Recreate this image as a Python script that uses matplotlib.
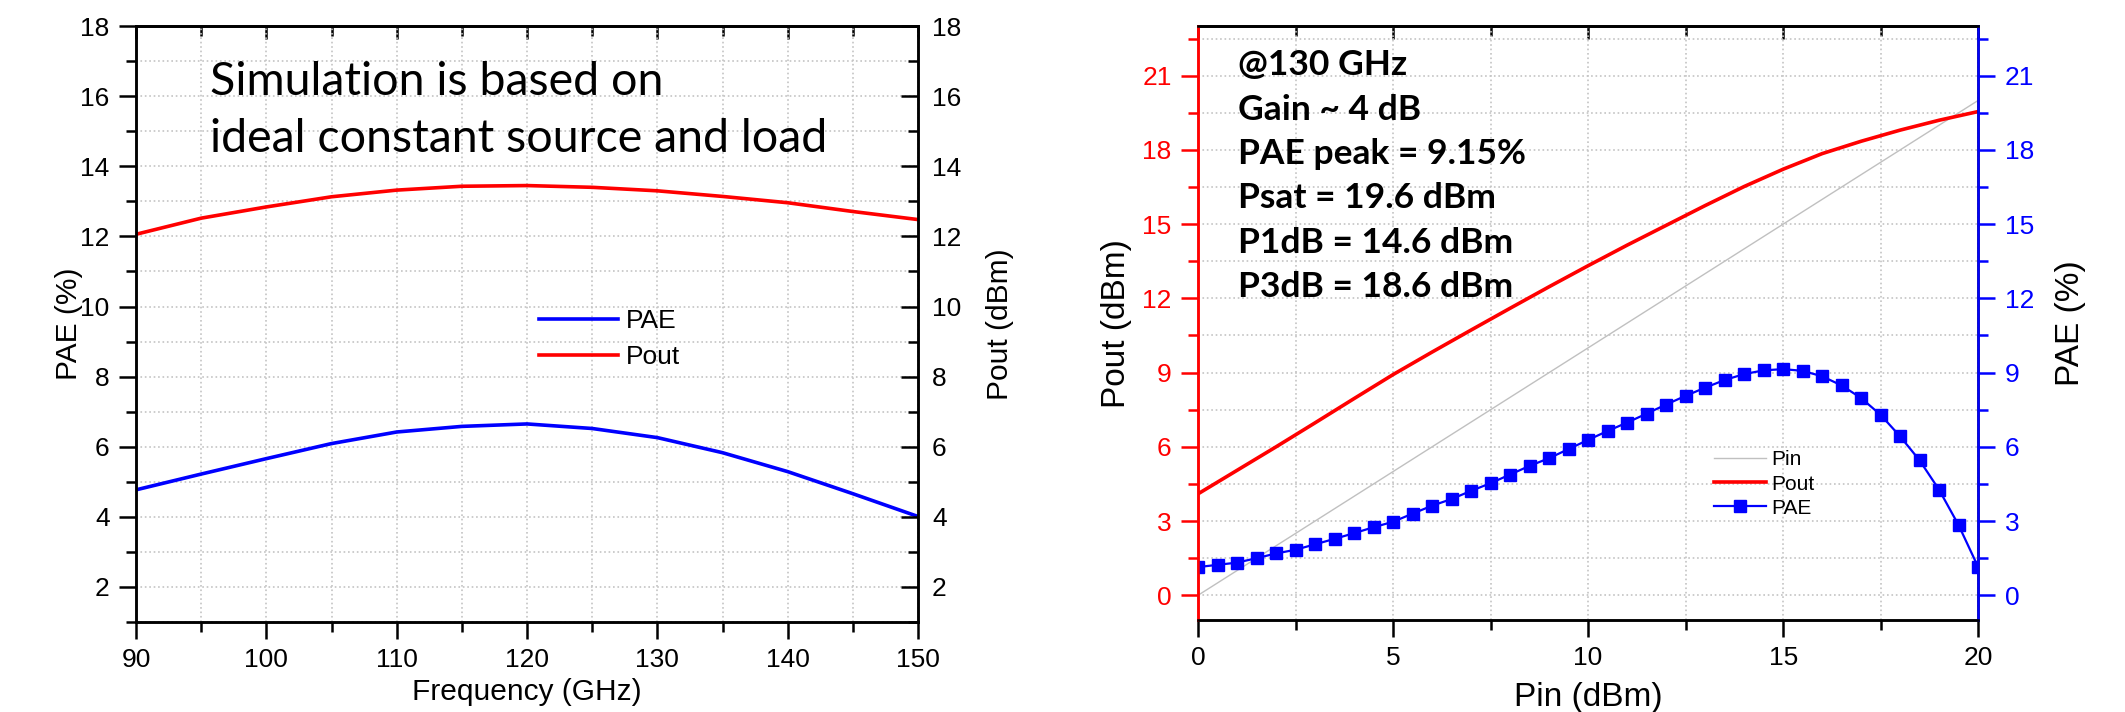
import numpy as np
import matplotlib
matplotlib.use("Agg")
import matplotlib.pyplot as plt
from matplotlib.ticker import MultipleLocator

plt.rcParams["font.family"] = ["Liberation Sans", "DejaVu Sans"]

# --- left plot: PAE and Pout versus frequency ---
freq = [90, 95, 100, 105, 110, 115, 120, 125, 130, 135, 140, 145, 150]
pae_freq = [4.77, 5.22, 5.66, 6.09, 6.42, 6.58, 6.65, 6.52, 6.26, 5.83, 5.29, 4.66, 4.01]
pout_freq = [12.06, 12.52, 12.84, 13.13, 13.32, 13.43, 13.45, 13.40, 13.30, 13.14, 12.96, 12.71, 12.48]

# --- right plot: power sweep at 130 GHz ---
pin = [0, 1, 2, 3, 4, 5, 6, 7, 8, 9, 10, 11, 12, 13, 14, 15, 16, 17, 18, 19, 20]
pout = [4.10, 5.05, 6.00, 6.97, 7.95, 8.92, 9.83, 10.72, 11.60, 12.47, 13.32,
        14.15, 14.95, 15.75, 16.52, 17.22, 17.85, 18.35, 18.80, 19.20, 19.55]
pin_pae = [0, 0.5, 1, 1.5, 2, 2.5, 3, 3.5, 4, 4.5, 5, 5.5, 6, 6.5, 7, 7.5, 8, 8.5, 9, 9.5,
           10, 10.5, 11, 11.5, 12, 12.5, 13, 13.5, 14, 14.5, 15, 15.5, 16, 16.5, 17, 17.5,
           18, 18.5, 19, 19.5, 20]
pae = [1.14, 1.23, 1.32, 1.50, 1.69, 1.84, 2.06, 2.28, 2.51, 2.75, 2.97, 3.30, 3.62, 3.89,
       4.22, 4.53, 4.88, 5.23, 5.54, 5.91, 6.28, 6.64, 6.98, 7.34, 7.71, 8.06, 8.39, 8.70,
       8.94, 9.09, 9.14, 9.07, 8.85, 8.48, 7.97, 7.29, 6.42, 5.45, 4.26, 2.83, 1.14]

notes = ["@130 GHz", "Gain ~ 4 dB", "PAE peak = 9.15%", "Psat = 19.6 dBm",
         "P1dB = 14.6 dBm", "P3dB = 18.6 dBm"]

ROUGE = "#ff0000"
BLEU = "#0000ff"
GRILLE = dict(color="#c4c4c4", linestyle=":", linewidth=1.2)
TICK = 19
LABEL_G = 21.5
LABEL_D = 24
SPINE = 1.8
LW = 2.6


def style_axe(ax, xmaj, xmin, ymaj, ymin):
    ax.xaxis.set_major_locator(MultipleLocator(xmaj))
    ax.xaxis.set_minor_locator(MultipleLocator(xmin))
    ax.yaxis.set_major_locator(MultipleLocator(ymaj))
    ax.yaxis.set_minor_locator(MultipleLocator(ymin))
    ax.grid(True, which="both", **GRILLE)
    ax.tick_params(which="both", direction="out", width=SPINE, labelsize=TICK,
                   top=False, right=False)
    ax.tick_params(which="major", length=12, pad=7)
    ax.tick_params(which="minor", length=7)
    for s in ax.spines.values():
        s.set_linewidth(SPINE)
    # ticks du haut vers l'interieur
    top = ax.secondary_xaxis("top")
    top.xaxis.set_major_locator(MultipleLocator(xmaj))
    top.xaxis.set_minor_locator(MultipleLocator(xmin))
    top.tick_params(which="both", direction="in", width=SPINE, labeltop=False)
    top.tick_params(which="major", length=9)
    top.tick_params(which="minor", length=7)
    top.spines["top"].set_linewidth(SPINE)


fig = plt.figure(figsize=(21.25, 7.12), dpi=100)

# ---------------- gauche ----------------
ax1 = fig.add_axes([0.0640, 0.1264, 0.368, 0.837])
ax1.plot(freq, pae_freq, color=BLEU, lw=LW, label="PAE")
ax1.plot(freq, pout_freq, color=ROUGE, lw=LW, label="Pout")
ax1.set_xlim(90, 150)
ax1.set_ylim(1, 18)
style_axe(ax1, 10, 5, 2, 1)
ax1.set_xlabel("Frequency (GHz)", fontsize=LABEL_G)
ax1.set_ylabel("PAE (%)", fontsize=LABEL_G)
ax1.xaxis.set_label_coords(0.5, -0.117)
ax1.xaxis.label.set_va("center")
ax1.yaxis.set_label_coords(-0.0855, 0.5)
ax1.yaxis.label.set_va("center")

ax2 = ax1.twinx()
ax2.set_ylim(1, 18)
ax2.yaxis.set_major_locator(MultipleLocator(2))
ax2.yaxis.set_minor_locator(MultipleLocator(1))
ax2.tick_params(which="both", direction="in", width=SPINE, labelsize=TICK, pad=10)
ax2.tick_params(which="major", length=12)
ax2.tick_params(which="minor", length=7)
for s in ax2.spines.values():
    s.set_linewidth(SPINE)
ax2.set_ylabel("Pout (dBm)", fontsize=LABEL_G)
ax2.yaxis.set_label_coords(1.105, 0.5)
ax2.yaxis.label.set_va("center")

ax1.legend(loc="center left", bbox_to_anchor=(0.515, 0.475), frameon=False,
           fontsize=TICK, handlelength=3.0, handletextpad=0.3, labelspacing=0.45,
           borderpad=0, borderaxespad=0)

for i, ligne in enumerate(["Simulation is based on", "ideal constant source and load"]):
    ax1.text(0.0946, 0.884 - i * 0.0956, ligne, transform=ax1.transAxes,
             fontsize=33.5, family=["Lato", "DejaVu Sans"], va="baseline", ha="left")

# ---------------- droite ----------------
ax3 = fig.add_axes([0.5638, 0.1292, 0.3671, 0.834])
ax3.plot(pin, pin, color="#c0c0c0", lw=1.0, label="Pin")
ax3.plot(pin, pout, color=ROUGE, lw=LW, label="Pout")
ax3.set_xlim(0, 20)
ax3.set_ylim(-1, 23)
style_axe(ax3, 5, 2.5, 3, 1.5)
ax3.tick_params(axis="y", which="both", colors=ROUGE)
ax3.spines["left"].set_color(ROUGE)
ax3.set_xlabel("Pin (dBm)", fontsize=LABEL_D)
ax3.set_ylabel("Pout (dBm)", fontsize=LABEL_D)
ax3.xaxis.set_label_coords(0.5, -0.131)
ax3.xaxis.label.set_va("center")
ax3.yaxis.set_label_coords(-0.105, 0.5)
ax3.yaxis.label.set_va("center")

ax4 = ax3.twinx()
ax4.plot(pin_pae, pae, color=BLEU, lw=1.6, marker="s", ms=8.5, label="PAE")
ax4.set_ylim(-1, 23)
ax4.yaxis.set_major_locator(MultipleLocator(3))
ax4.yaxis.set_minor_locator(MultipleLocator(1.5))
ax4.tick_params(which="both", direction="out", width=SPINE, labelsize=TICK,
                colors=BLEU, pad=7)
ax4.tick_params(which="major", length=12)
ax4.tick_params(which="minor", length=7)
for s in ax4.spines.values():
    s.set_linewidth(SPINE)
ax4.spines["right"].set_color(BLEU)
ax4.spines["left"].set_color(ROUGE)
ax4.set_ylabel("PAE (%)", fontsize=LABEL_D)
ax4.yaxis.set_label_coords(1.118, 0.5)
ax4.yaxis.label.set_va("center")

h3, l3 = ax3.get_legend_handles_labels()
h4, l4 = ax4.get_legend_handles_labels()
ax4.legend(h3 + h4, l3 + l4, loc="center left", bbox_to_anchor=(0.6615, 0.229),
           frameon=False, fontsize=15, handlelength=2.5, handletextpad=0.25,
           labelspacing=0.25, borderpad=0, borderaxespad=0)

for i, ligne in enumerate(notes):
    y = 1 - (75 + i * 44.4 - 26) / 594
    ax3.text(0.0513, y, ligne, transform=ax3.transAxes, fontsize=25.5, fontweight="bold",
             family=["Lato", "DejaVu Sans"], va="baseline", ha="left")

fig.savefig("out.png", dpi=100)
